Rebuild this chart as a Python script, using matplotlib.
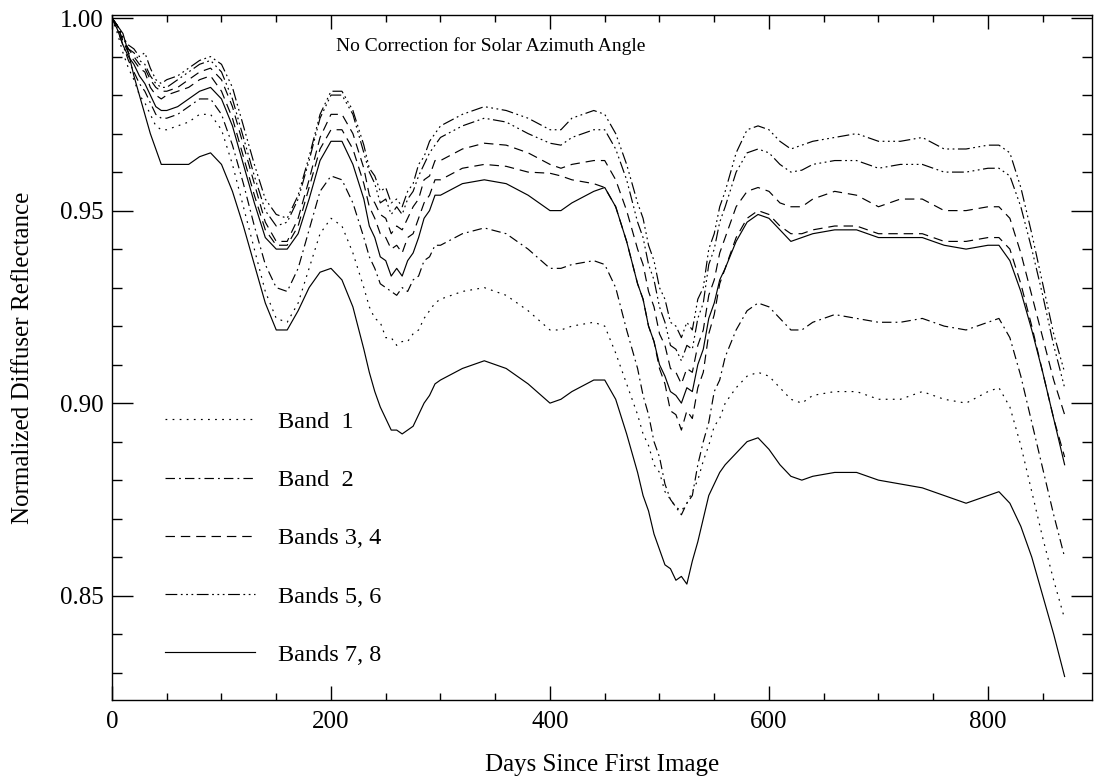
import matplotlib
matplotlib.use("Agg")
import matplotlib.pyplot as plt
from matplotlib.lines import Line2D
from matplotlib.ticker import MultipleLocator, FormatStrFormatter

days = [0, 5, 10, 15, 20, 25, 30, 35, 40, 45, 50, 60, 70, 80, 90, 100, 110, 120, 130, 140,
        150, 160, 170, 180, 190, 200, 210, 220, 230, 235, 240, 245, 250, 255, 260, 265, 270, 275, 280, 285, 290, 295, 300,
        320, 340, 360, 380, 400, 410, 420, 440, 450, 460, 470, 480, 485, 490, 495, 500, 505, 510, 515, 520, 525, 530, 535, 540, 545, 550, 555, 560,
        570, 580, 590, 600, 610, 620, 630, 640, 660, 680, 700, 720, 740, 760, 780, 800, 810, 820, 830, 840, 850, 860, 870]

band1 = [1.000, 0.996, 0.991, 0.987, 0.984, 0.980, 0.978, 0.975, 0.972, 0.971, 0.971, 0.972, 0.973, 0.975, 0.975, 0.971, 0.962, 0.951, 0.940, 0.929,
         0.922, 0.921, 0.926, 0.935, 0.944, 0.948, 0.946, 0.939, 0.930, 0.925, 0.922, 0.921, 0.917, 0.917, 0.915, 0.916, 0.916, 0.918, 0.919, 0.922, 0.924, 0.926, 0.927,
         0.929, 0.930, 0.928, 0.924, 0.919, 0.919, 0.920, 0.921, 0.920, 0.913, 0.905, 0.897, 0.892, 0.889, 0.884, 0.882, 0.877, 0.875, 0.873, 0.872, 0.874, 0.877, 0.880, 0.885, 0.889, 0.894, 0.896, 0.900,
         0.904, 0.907, 0.908, 0.907, 0.904, 0.901, 0.900, 0.902, 0.903, 0.903, 0.901, 0.901, 0.903, 0.901, 0.900, 0.903, 0.904, 0.899, 0.889, 0.877, 0.865, 0.854, 0.844]

band2 = [1.000, 0.997, 0.993, 0.989, 0.986, 0.983, 0.981, 0.978, 0.975, 0.974, 0.974, 0.975, 0.977, 0.979, 0.979, 0.975, 0.967, 0.957, 0.946, 0.936,
         0.930, 0.929, 0.935, 0.945, 0.955, 0.959, 0.958, 0.952, 0.943, 0.938, 0.935, 0.931, 0.930, 0.929, 0.928, 0.930, 0.929, 0.932, 0.933, 0.937, 0.938, 0.941, 0.941,
         0.944, 0.9455, 0.944, 0.940, 0.935, 0.935, 0.936, 0.937, 0.936, 0.930, 0.919, 0.909, 0.902, 0.897, 0.890, 0.886, 0.879, 0.875, 0.873, 0.871, 0.874, 0.876, 0.884, 0.890, 0.895, 0.903, 0.906, 0.912,
         0.919, 0.924, 0.926, 0.925, 0.922, 0.919, 0.919, 0.921, 0.923, 0.922, 0.921, 0.921, 0.922, 0.920, 0.919, 0.921, 0.922, 0.917, 0.907, 0.895, 0.883, 0.871, 0.860]

band3 = [1.000, 0.998, 0.994, 0.992, 0.990, 0.988, 0.987, 0.984, 0.982, 0.981, 0.981, 0.982, 0.984, 0.986, 0.987, 0.984, 0.977, 0.967, 0.957, 0.947,
         0.942, 0.942, 0.948, 0.958, 0.969, 0.975, 0.975, 0.970, 0.961, 0.954, 0.952, 0.949, 0.948, 0.944, 0.946, 0.945, 0.948, 0.951, 0.953, 0.958, 0.959, 0.963, 0.963,
         0.966, 0.9675, 0.967, 0.965, 0.962, 0.961, 0.962, 0.963, 0.963, 0.958, 0.950, 0.940, 0.936, 0.929, 0.925, 0.918, 0.915, 0.909, 0.908, 0.905, 0.909, 0.908, 0.915, 0.919, 0.928, 0.932, 0.939, 0.943,
         0.951, 0.955, 0.956, 0.955, 0.952, 0.951, 0.951, 0.953, 0.955, 0.954, 0.951, 0.953, 0.953, 0.950, 0.950, 0.951, 0.951, 0.948, 0.939, 0.928, 0.917, 0.906, 0.897]

band4 = [1.000, 0.998, 0.994, 0.991, 0.989, 0.987, 0.986, 0.982, 0.980, 0.979, 0.980, 0.981, 0.982, 0.984, 0.985, 0.981, 0.974, 0.964, 0.954, 0.945,
         0.941, 0.941, 0.946, 0.956, 0.966, 0.971, 0.971, 0.966, 0.957, 0.951, 0.948, 0.944, 0.943, 0.940, 0.941, 0.939, 0.943, 0.944, 0.948, 0.952, 0.954, 0.958, 0.958,
         0.961, 0.962, 0.9615, 0.960, 0.9597, 0.959, 0.958, 0.957, 0.956, 0.951, 0.942, 0.931, 0.927, 0.920, 0.916, 0.909, 0.905, 0.898, 0.897, 0.893, 0.898, 0.896, 0.904, 0.908, 0.918, 0.923, 0.931, 0.935,
         0.943, 0.948, 0.950, 0.949, 0.946, 0.944, 0.944, 0.945, 0.946, 0.946, 0.944, 0.944, 0.944, 0.942, 0.942, 0.943, 0.943, 0.940, 0.931, 0.920, 0.908, 0.896, 0.886]

band5 = [1.000, 0.998, 0.995, 0.993, 0.992, 0.990, 0.991, 0.987, 0.984, 0.983, 0.984, 0.985, 0.987, 0.989, 0.990, 0.988, 0.982, 0.972, 0.962, 0.953,
         0.949, 0.948, 0.954, 0.964, 0.975, 0.981, 0.981, 0.976, 0.967, 0.961, 0.959, 0.955, 0.956, 0.952, 0.953, 0.951, 0.955, 0.957, 0.962, 0.964, 0.968, 0.970, 0.972,
         0.975, 0.977, 0.976, 0.974, 0.971, 0.971, 0.974, 0.976, 0.975, 0.970, 0.962, 0.952, 0.948, 0.941, 0.937, 0.930, 0.927, 0.921, 0.920, 0.917, 0.921, 0.919, 0.927, 0.930, 0.940, 0.944, 0.951, 0.955,
         0.965, 0.971, 0.972, 0.971, 0.968, 0.966, 0.967, 0.968, 0.969, 0.970, 0.968, 0.968, 0.969, 0.966, 0.966, 0.967, 0.967, 0.965, 0.956, 0.944, 0.931, 0.918, 0.908]

band6 = [1.000, 0.998, 0.995, 0.992, 0.991, 0.989, 0.988, 0.985, 0.983, 0.982, 0.982, 0.984, 0.986, 0.988, 0.989, 0.986, 0.979, 0.969, 0.959, 0.950,
         0.946, 0.947, 0.953, 0.963, 0.974, 0.980, 0.980, 0.975, 0.965, 0.960, 0.957, 0.952, 0.953, 0.949, 0.951, 0.949, 0.953, 0.955, 0.959, 0.962, 0.965, 0.967, 0.969,
         0.972, 0.974, 0.973, 0.970, 0.9675, 0.967, 0.969, 0.971, 0.971, 0.966, 0.958, 0.947, 0.943, 0.936, 0.932, 0.925, 0.921, 0.915, 0.914, 0.911, 0.915, 0.914, 0.922, 0.926, 0.936, 0.940, 0.947, 0.951,
         0.960, 0.965, 0.966, 0.965, 0.962, 0.960, 0.9605, 0.962, 0.963, 0.963, 0.961, 0.962, 0.962, 0.960, 0.960, 0.961, 0.961, 0.959, 0.951, 0.940, 0.928, 0.915, 0.904]

band7 = [1.000, 0.997, 0.993, 0.990, 0.988, 0.985, 0.983, 0.980, 0.977, 0.976, 0.976, 0.977, 0.979, 0.981, 0.982, 0.979, 0.972, 0.962, 0.952, 0.943,
         0.940, 0.940, 0.944, 0.953, 0.963, 0.968, 0.968, 0.962, 0.953, 0.946, 0.943, 0.938, 0.937, 0.933, 0.935, 0.933, 0.937, 0.939, 0.943, 0.948, 0.950, 0.954, 0.954,
         0.957, 0.958, 0.957, 0.954, 0.950, 0.950, 0.952, 0.955, 0.956, 0.951, 0.942, 0.931, 0.927, 0.920, 0.916, 0.910, 0.907, 0.903, 0.902, 0.900, 0.904, 0.903, 0.910, 0.914, 0.922, 0.926, 0.932, 0.935,
         0.942, 0.947, 0.949, 0.948, 0.945, 0.942, 0.943, 0.944, 0.945, 0.945, 0.943, 0.943, 0.943, 0.941, 0.940, 0.941, 0.941, 0.937, 0.929, 0.919, 0.908, 0.896, 0.884]

band8 = [1.000, 0.998, 0.996, 0.991, 0.985, 0.980, 0.975, 0.970, 0.966, 0.962, 0.962, 0.962, 0.962, 0.964, 0.965, 0.962, 0.955, 0.946, 0.936, 0.926,
         0.919, 0.919, 0.924, 0.930, 0.934, 0.935, 0.932, 0.925, 0.914, 0.908, 0.903, 0.899, 0.896, 0.893, 0.893, 0.892, 0.893, 0.894, 0.897, 0.900, 0.902, 0.905, 0.906,
         0.909, 0.911, 0.909, 0.905, 0.900, 0.901, 0.903, 0.906, 0.906, 0.901, 0.892, 0.882, 0.876, 0.872, 0.866, 0.862, 0.858, 0.857, 0.854, 0.855, 0.853, 0.859, 0.864, 0.870, 0.876, 0.879, 0.882, 0.884,
         0.887, 0.890, 0.891, 0.888, 0.884, 0.881, 0.880, 0.881, 0.882, 0.882, 0.880, 0.879, 0.878, 0.876, 0.874, 0.876, 0.877, 0.874, 0.868, 0.860, 0.850, 0.840, 0.829]

legend_labels = ["Band  1", "Band  2", "Bands 3, 4", "Bands 5, 6", "Bands 7, 8"]

plt.rcParams["font.family"] = "Liberation Serif"
plt.rcParams["font.size"] = 18

dotted = (0, (1.5, 4.5))
dashdot = (0, (8, 3.5, 1.5, 3.5))
dashed = (0, (8, 5))
dashdotdot = (0, (10, 3, 1.5, 3, 1.5, 3, 1.5, 3))
solid = "-"

fig = plt.figure(figsize=(10.94, 7.83), dpi=100)
ax = fig.add_axes([112 / 1094, 83 / 783, 980 / 1094, 685 / 783])

lw = 0.85
ax.plot(days, band1, color="black", lw=lw, linestyle=dotted)
ax.plot(days, band2, color="black", lw=lw, linestyle=dashdot)
ax.plot(days, band3, color="black", lw=lw, linestyle=dashed)
ax.plot(days, band4, color="black", lw=lw, linestyle=dashed)
ax.plot(days, band5, color="black", lw=lw, linestyle=dashdotdot)
ax.plot(days, band6, color="black", lw=lw, linestyle=dashdotdot)
ax.plot(days, band7, color="black", lw=lw, linestyle=solid)
ax.plot(days, band8, color="black", lw=lw, linestyle=solid)

ax.set_xlim(0, 895)
ax.set_ylim(0.8229, 1.0008)
ax.xaxis.set_major_locator(MultipleLocator(200))
ax.xaxis.set_minor_locator(MultipleLocator(50))
ax.yaxis.set_major_locator(MultipleLocator(0.05))
ax.yaxis.set_minor_locator(MultipleLocator(0.01))
ax.yaxis.set_major_formatter(FormatStrFormatter("%.2f"))
ax.tick_params(axis="both", which="both", direction="in", top=True, right=True, width=1,
               labelsize=18)
ax.tick_params(axis="x", which="major", length=10, pad=8)
ax.tick_params(axis="x", which="minor", length=5)
ax.tick_params(axis="y", which="major", length=15, pad=6)
ax.tick_params(axis="y", which="minor", length=7)
for sp in ax.spines.values():
    sp.set_linewidth(1)

ax.set_xlabel("Days Since First Image", fontsize=18, labelpad=15)
ax.set_ylabel("Normalized Diffuser Reflectance", fontsize=18, labelpad=19)
ax.text(0.3865, 0.955, "No Correction for Solar Azimuth Angle", transform=ax.transAxes,
        ha="center", va="center", fontsize=14)

styles = [dotted, dashdot, dashed, dashdotdot, solid]
handles = [Line2D([], [], color="black", lw=lw, linestyle=s) for s in styles]
ax.legend(handles, legend_labels, loc="upper left", bbox_to_anchor=(0.054, 0.422),
          frameon=False, fontsize=17.5, handlelength=3.7, handletextpad=0.95,
          labelspacing=1.49, borderpad=0, borderaxespad=0)

fig.savefig("out.png", dpi=100)
